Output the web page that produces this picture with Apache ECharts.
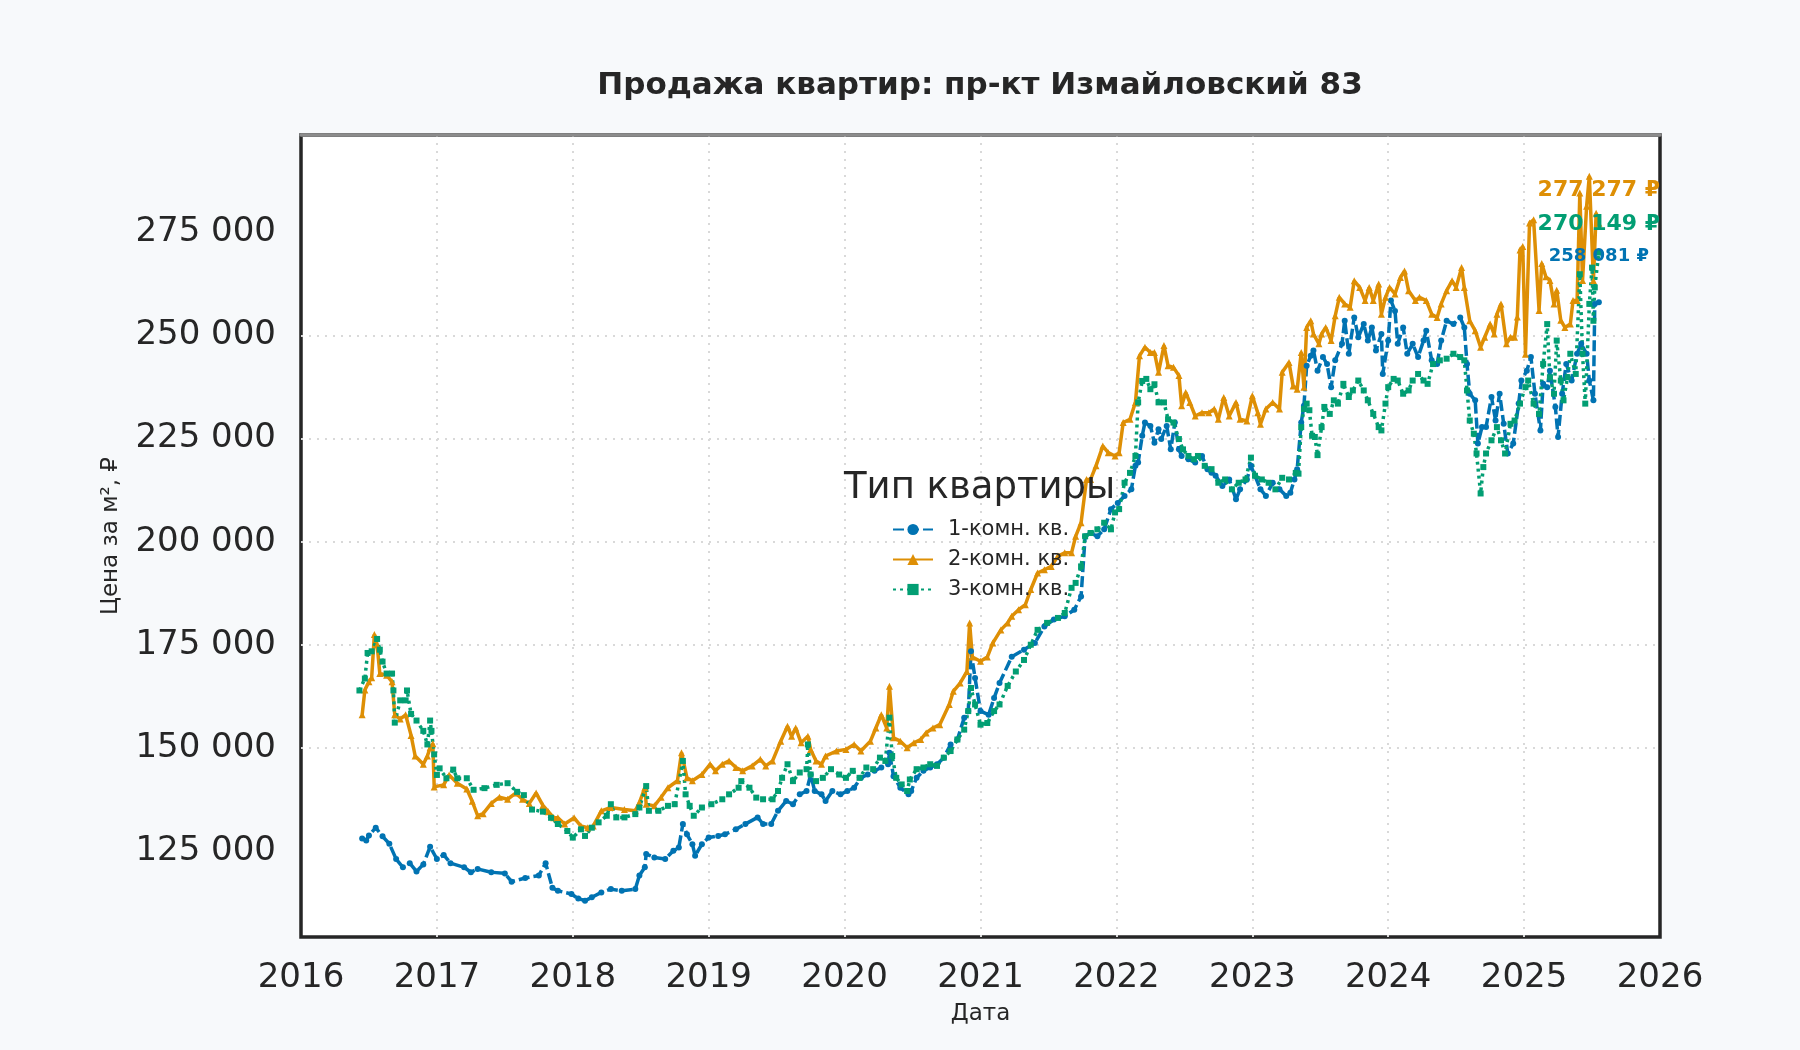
<!DOCTYPE html>
<html lang="ru">
<head>
    <meta charset="UTF-8">
    <title>Продажа квартир: пр-кт Измайловский 83</title>
    <script src="https://cdn.jsdelivr.net/npm/echarts@6/dist/echarts.min.js"></script>
    <style>
        html, body { margin: 0; padding: 0; background: #f7f9fb; }
        #chart { width: 1800px; height: 1050px; }
    </style>
</head>
<body>
<div id="chart"></div>
<script type="text/javascript">
    // годы (дробные) и цена за м2 в тыс. руб.
    var names = ['1-комн. кв.', '2-комн. кв.', '3-комн. кв.'];
    var colors = ['#0173b2', '#de8f05', '#029e73'];
    var yTicks = [125000, 150000, 175000, 200000, 225000, 250000, 275000];
    var xTicks = [2016, 2017, 2018, 2019, 2020, 2021, 2022, 2023, 2024, 2025, 2026];

    var t1 = [2016.45,2016.48,2016.50,2016.55,2016.60,2016.65,2016.70,2016.75,2016.80,2016.85,2016.90,2016.95,2017.00,2017.05,2017.10,2017.20,2017.25,2017.30,2017.40,2017.50,2017.55,2017.65,2017.75,2017.80,2017.85,2017.89,2017.99,2018.04,2018.09,2018.14,2018.21,2018.28,2018.36,2018.46,2018.49,2018.53,2018.54,2018.60,2018.68,2018.74,2018.78,2018.81,2018.84,2018.88,2018.90,2018.95,2019.00,2019.07,2019.12,2019.20,2019.27,2019.36,2019.40,2019.46,2019.51,2019.57,2019.62,2019.67,2019.72,2019.75,2019.78,2019.83,2019.86,2019.91,2019.97,2020.02,2020.07,2020.12,2020.17,2020.22,2020.27,2020.32,2020.33,2020.36,2020.41,2020.47,2020.49,2020.53,2020.58,2020.63,2020.68,2020.73,2020.78,2020.83,2020.88,2020.91,2020.93,2020.96,2021.00,2021.06,2021.10,2021.14,2021.23,2021.32,2021.40,2021.47,2021.54,2021.62,2021.69,2021.74,2021.77,2021.81,2021.86,2021.91,2021.96,2022.01,2022.06,2022.11,2022.14,2022.16,2022.19,2022.21,2022.25,2022.28,2022.31,2022.33,2022.37,2022.40,2022.43,2022.46,2022.48,2022.53,2022.58,2022.63,2022.67,2022.70,2022.73,2022.78,2022.83,2022.88,2022.91,2022.96,2022.99,2023.02,2023.06,2023.10,2023.15,2023.20,2023.25,2023.28,2023.31,2023.33,2023.36,2023.38,2023.40,2023.43,2023.45,2023.48,2023.52,2023.55,2023.58,2023.61,2023.66,2023.68,2023.71,2023.75,2023.78,2023.82,2023.85,2023.88,2023.91,2023.95,2023.96,2024.00,2024.02,2024.05,2024.07,2024.11,2024.14,2024.18,2024.22,2024.26,2024.28,2024.32,2024.36,2024.39,2024.43,2024.48,2024.53,2024.56,2024.58,2024.60,2024.64,2024.66,2024.69,2024.72,2024.76,2024.79,2024.82,2024.85,2024.88,2024.92,2024.96,2024.98,2025.02,2025.05,2025.08,2025.12,2025.14,2025.17,2025.19,2025.23,2025.25,2025.28,2025.31,2025.35,2025.39,2025.42,2025.46,2025.48,2025.51,2025.52,2025.55];
    var v1 = [128,127.5,128.7,130.6,128.5,126.7,123,121,122,120,121.7,126,123,124,122,121,119.8,120.6,119.8,119.5,117.5,118.4,119,122,116,115.3,114.5,113.4,112.9,113.7,114.9,115.7,115.3,115.7,119,121,124.2,123.4,123,125,125.8,131.5,129,126.6,123.8,126.6,128.2,128.6,129,130.2,131.5,133.1,131.5,131.5,134.7,137.1,136.3,138.7,139.5,143.5,139.5,138.7,137.1,139.5,138.7,139.5,140.3,142.7,143.5,144.4,145.2,146,148.8,143.1,140.3,138.7,139.5,142.7,144.4,145.2,146,147.6,150.8,152,157.3,158.9,173.4,166.9,158.9,158,162.1,165.7,172.1,173.8,175.4,179.4,181.1,181.9,183.5,186.7,201.3,202.1,201.3,203,207.9,209.4,211.1,212.7,218.4,219.2,225.7,228.9,228.1,224,227.3,224.9,228.1,222.4,228.9,222.4,220.8,220,219.2,220.8,217.6,216.7,216,213.5,215.1,210.3,212.7,215.1,218.4,216,212.7,211.1,214.3,212.7,211.1,211.9,215.1,217.6,228.9,233,242.7,245.1,246.4,241.5,244.8,243.1,237.5,244,248,253.6,245.6,254.4,249.6,252.8,248.8,252,246.4,250.4,240.7,248.8,258.5,256,248,252,245.6,248,244.8,248.8,251.2,244,243.1,248.8,253.6,252.8,254.4,252,243.1,235.9,234.3,223.8,227.8,227.8,235.1,229.4,235.9,228.6,221.4,223.8,233.5,239.1,241.5,244.8,235.9,227,238.3,237.5,241.5,232.7,225.4,235.9,243.1,239.1,245.6,248,245.6,239.1,234.3,257.7,258.081];

    var t2 = [2016.45,2016.47,2016.50,2016.52,2016.54,2016.56,2016.58,2016.63,2016.67,2016.69,2016.73,2016.77,2016.81,2016.84,2016.90,2016.93,2016.95,2016.97,2016.98,2017.05,2017.09,2017.15,2017.22,2017.26,2017.30,2017.34,2017.40,2017.46,2017.52,2017.58,2017.63,2017.68,2017.73,2017.78,2017.82,2017.86,2017.89,2017.94,2018.01,2018.06,2018.11,2018.15,2018.21,2018.28,2018.38,2018.46,2018.49,2018.53,2018.54,2018.60,2018.65,2018.70,2018.77,2018.80,2018.84,2018.88,2018.95,2019.01,2019.05,2019.10,2019.15,2019.20,2019.25,2019.32,2019.38,2019.42,2019.47,2019.53,2019.58,2019.61,2019.64,2019.68,2019.73,2019.75,2019.79,2019.83,2019.86,2019.94,2020.01,2020.07,2020.12,2020.19,2020.23,2020.27,2020.31,2020.33,2020.36,2020.41,2020.46,2020.51,2020.56,2020.60,2020.65,2020.70,2020.77,2020.80,2020.85,2020.90,2020.92,2020.94,2021.00,2021.05,2021.09,2021.15,2021.20,2021.23,2021.28,2021.33,2021.37,2021.42,2021.47,2021.52,2021.57,2021.62,2021.67,2021.70,2021.74,2021.78,2021.81,2021.85,2021.90,2021.94,2021.99,2022.02,2022.05,2022.10,2022.14,2022.17,2022.21,2022.25,2022.28,2022.31,2022.35,2022.38,2022.42,2022.46,2022.48,2022.51,2022.54,2022.58,2022.63,2022.68,2022.72,2022.75,2022.79,2022.83,2022.88,2022.91,2022.96,2023.00,2023.04,2023.06,2023.10,2023.15,2023.20,2023.22,2023.27,2023.30,2023.33,2023.36,2023.38,2023.40,2023.43,2023.45,2023.49,2023.51,2023.54,2023.58,2023.61,2023.64,2023.68,2023.72,2023.75,2023.79,2023.83,2023.86,2023.89,2023.93,2023.95,2023.98,2024.01,2024.05,2024.09,2024.12,2024.15,2024.20,2024.23,2024.28,2024.32,2024.36,2024.39,2024.43,2024.47,2024.50,2024.54,2024.56,2024.60,2024.64,2024.68,2024.71,2024.75,2024.78,2024.80,2024.83,2024.87,2024.90,2024.93,2024.95,2024.97,2024.99,2025.01,2025.04,2025.07,2025.11,2025.13,2025.16,2025.19,2025.22,2025.24,2025.27,2025.30,2025.34,2025.36,2025.39,2025.41,2025.43,2025.46,2025.48,2025.51,2025.53,2025.55];
    var v2 = [158,164,166,167,177.5,175,168,167.6,166,158,157,158,153,148,146,148,150,151,140.5,141,143.4,141.4,140,137,133.5,134,136.5,138,137.5,139,137.5,136.5,139,136,134.5,133,133,131.5,133,131,130.6,131,134.7,135.5,135,134.7,136.7,140.3,136.3,135.9,138,140.3,142,148.8,142.7,142,143.5,146,144.4,146,146.8,145.2,144.4,145.6,147.2,145.6,146.8,151.6,155.2,152.8,154.8,151.2,152.8,149.6,146.8,146,148,149.2,149.6,150.8,149.2,151.6,154.8,158,154.8,164.9,152.4,151.6,150,151.2,152,153.6,154.8,155.6,160.5,163.7,165.7,168.5,180.3,172,171,172,175.4,178.6,180.3,181.9,183.5,184.7,188.4,192.4,193.2,194,196.5,197.3,197.3,201.3,204.6,215.1,215.1,218.4,223.2,221.6,220.8,221.6,228.9,229.7,233.8,245.1,247.2,245.9,245.9,241.1,247.6,242.7,242.3,240.3,233,236.2,233.8,230.5,231.3,231.3,232.2,229.7,235,230.5,233.8,229.7,229.3,235.4,231.3,228.5,232.2,233.8,232.2,241.1,243.5,237.8,237,245.9,237.5,252,253.6,250.4,248,250.4,252,248.8,254.8,259.3,257.7,256.9,263.3,261.7,258.5,261.7,258.5,262.5,255.2,259.3,261.7,260.1,264.1,265.7,260.9,258.5,259.3,258.5,255.2,254.4,257.7,260.9,263.3,261.7,266.5,261.7,253.6,251.2,247.2,249.6,252.8,250.4,255.2,257.7,248,249.6,249.6,254.5,270.8,271.6,245.5,277.3,278.1,256.1,267.5,264.3,263.4,257.7,261,253.7,252,252.8,258.5,258.5,284.6,263.4,281.4,288.7,263.4,279.7,277.277];

    var t3 = [2016.43,2016.47,2016.49,2016.52,2016.56,2016.58,2016.60,2016.63,2016.67,2016.68,2016.69,2016.73,2016.77,2016.78,2016.81,2016.85,2016.90,2016.93,2016.95,2016.96,2016.98,2017.00,2017.02,2017.07,2017.12,2017.15,2017.22,2017.27,2017.35,2017.44,2017.52,2017.59,2017.64,2017.70,2017.78,2017.84,2017.89,2017.96,2018.00,2018.06,2018.09,2018.14,2018.19,2018.25,2018.28,2018.32,2018.38,2018.46,2018.49,2018.54,2018.56,2018.63,2018.70,2018.75,2018.81,2018.83,2018.86,2018.89,2018.95,2019.02,2019.10,2019.15,2019.22,2019.24,2019.30,2019.35,2019.40,2019.47,2019.51,2019.54,2019.58,2019.62,2019.67,2019.72,2019.73,2019.75,2019.79,2019.84,2019.90,2019.96,2020.01,2020.06,2020.11,2020.16,2020.21,2020.26,2020.30,2020.33,2020.35,2020.38,2020.42,2020.46,2020.48,2020.53,2020.58,2020.63,2020.68,2020.73,2020.78,2020.83,2020.88,2020.91,2020.93,2020.96,2021.00,2021.05,2021.10,2021.14,2021.20,2021.26,2021.32,2021.37,2021.42,2021.49,2021.57,2021.62,2021.67,2021.70,2021.74,2021.77,2021.81,2021.86,2021.91,2021.96,2021.99,2022.02,2022.06,2022.10,2022.14,2022.16,2022.19,2022.22,2022.25,2022.28,2022.31,2022.35,2022.38,2022.42,2022.46,2022.49,2022.53,2022.57,2022.60,2022.65,2022.70,2022.75,2022.80,2022.85,2022.90,2022.95,2022.99,2023.02,2023.07,2023.12,2023.17,2023.22,2023.27,2023.32,2023.34,2023.36,2023.38,2023.40,2023.42,2023.44,2023.46,2023.48,2023.51,2023.53,2023.57,2023.60,2023.63,2023.67,2023.71,2023.74,2023.78,2023.82,2023.85,2023.89,2023.93,2023.95,2023.98,2024.00,2024.04,2024.07,2024.11,2024.15,2024.18,2024.22,2024.26,2024.29,2024.33,2024.38,2024.43,2024.48,2024.53,2024.56,2024.58,2024.60,2024.63,2024.65,2024.68,2024.70,2024.72,2024.76,2024.80,2024.83,2024.86,2024.90,2024.93,2024.97,2025.01,2025.03,2025.07,2025.11,2025.14,2025.17,2025.19,2025.22,2025.24,2025.27,2025.29,2025.32,2025.34,2025.38,2025.41,2025.43,2025.45,2025.48,2025.50,2025.51,2025.52,2025.55];
    var v3 = [163.9,166.8,173,173.4,176.4,173.8,170.9,168,168,163.9,156.1,161.5,161.5,163.9,158.2,156.6,154.1,150.8,156.6,154.1,148.4,143.4,145,142.6,144.7,142.6,142.6,139.8,140.2,141,141.4,139.3,138.5,135,134.5,133,131.5,129.8,128.2,130.2,128.6,130.6,131.9,133.5,136.3,133.1,133.1,133.9,135.5,140.7,134.7,134.7,135.9,136.3,146.8,138.7,135.9,133.5,135.5,136.3,137.5,138.7,140.3,141.9,140.3,137.9,137.5,137.5,139.5,142.7,146,141.9,144,144.8,150.8,143.5,141.9,142.7,144.8,143.5,142.7,144.4,142.7,145.2,144.8,147.6,146.8,157.3,148,142.7,141.1,139.5,142.3,144.8,145.2,146,145.6,147.6,149.2,152,154.4,158.9,164.5,160.5,155.6,156,158.9,160.5,165,168.5,171.3,175,178.6,180.3,181.5,182.7,188.8,190,194,201.3,202.1,203,204.6,203,207.1,207.9,214.3,216.7,220.8,233.8,239,239.5,237,238.2,233.8,233.8,229.7,228.9,224.9,222.4,220.8,220,220.8,218.4,217.6,214.3,215.1,212.7,214.3,215.1,220.4,216,215.1,214.3,212.7,215.5,215.1,216.7,216.5,227.8,232.2,233.5,231.9,225.7,225.4,221,227.8,232.7,231,234.3,233.5,238.3,235.1,236.7,239.1,236.7,234.3,231,227.8,227,233.5,237.5,239.5,239.1,235.9,236.7,239.1,240.7,239.1,238.3,243.1,244,244.4,245.6,244.8,244,236.7,229.4,226.2,221.4,211.7,218.1,221.4,224.6,227.8,224.6,221.4,228.6,229.4,233.5,237.5,239.1,233.5,231,243.1,252.8,239.9,235.9,248.8,239.1,234.3,239.9,245.6,240.7,264.9,245.6,233.5,257.7,266.5,253.6,261.7,270.149];

    var times = [t1, t2, t3];
    var values = [v1, v2, v3];
    var lastOffsets = [-46, -33, -28];
    var lastFont = [18, 22, 22];
    var symbols = ['circle', 'triangle', 'rect'];
    var symbolSizes = [6, 7, 6];
    var lineTypes = [[11, 4], 'solid', [3, 4]];

    var font = 'DejaVu Sans';
    var ink = '#262626';
    var gridLine = { color: '#d9d9d9', width: 2, type: [2, 6] };

    function rub(v) {
        return String(Math.round(v)).replace(/\B(?=(\d{3})+(?!\d))/g, ' ');
    }

    var series = names.map(function (name, i) {
        var pts = times[i].map(function (t, k) {
            return [t, Math.round(values[i][k] * 1000)];
        });
        var last = pts[pts.length - 1];
        return {
            name: name,
            type: 'line',
            data: pts,
            symbol: symbols[i],
            symbolSize: symbolSizes[i],
            showSymbol: true,
            color: colors[i],
            lineStyle: { width: 3.5, type: lineTypes[i], color: colors[i] },
            itemStyle: { color: colors[i] },
            emphasis: { disabled: true },
            markPoint: {
                symbol: 'circle',
                symbolSize: 1,
                itemStyle: { color: 'rgba(0,0,0,0)' },
                data: [{ coord: last, value: last[1] }],
                label: {
                    show: true,
                    position: 'inside',
                    offset: [0, lastOffsets[i]],
                    formatter: function (p) { return rub(p.value) + ' ₽'; },
                    color: colors[i],
                    fontFamily: font,
                    fontWeight: 'bold',
                    fontSize: lastFont[i]
                }
            }
        };
    });

    var chart = echarts.init(document.getElementById('chart'));
    chart.setOption({
        animation: false,
        backgroundColor: '#f7f9fb',
        textStyle: { fontFamily: font },
        graphic: [
            {
                type: 'text', x: 980, y: 86,
                style: {
                    text: 'Продажа квартир: пр-кт Измайловский 83',
                    font: 'bold 31px "DejaVu Sans"', fill: ink,
                    textAlign: 'center', textVerticalAlign: 'middle'
                }
            },
            {
                type: 'text', x: 844, y: 488, z: 100,
                style: {
                    text: 'Тип квартиры',
                    font: '37px "DejaVu Sans"', fill: ink,
                    textAlign: 'left', textVerticalAlign: 'middle'
                }
            }
        ],
        legend: {
            data: names,
            orient: 'vertical',
            left: 892,
            top: 519,
            padding: 0,
            itemWidth: 40,
            itemHeight: 14,
            itemGap: 9,
            textStyle: { fontSize: 21, color: ink, fontFamily: font, padding: [0, 0, 0, 10] }
        },
        grid: {
            left: 301, right: 140, top: 135, bottom: 113,
            show: true, backgroundColor: '#ffffff',
            borderColor: ink, borderWidth: 3.5
        },
        xAxis: [
            {
                type: 'value', min: 2016, max: 2026, interval: 1,
                name: 'Дата', nameLocation: 'middle', nameGap: 66,
                nameTextStyle: { fontSize: 23, color: ink },
                axisLine: { show: false },
                axisTick: { show: false },
                axisLabel: {
                    fontSize: 34, color: ink, margin: 24,
                    formatter: function (v) { return String(v); }
                },
                splitLine: { show: true, showMinLine: false, showMaxLine: false, lineStyle: gridLine }
            },
            {
                type: 'value', min: 2016, max: 2026, position: 'top',
                axisLine: { show: true, lineStyle: { color: '#8c8c8c', width: 3.5 } },
                axisTick: { show: false }, axisLabel: { show: false }, splitLine: { show: false }
            }
        ],
        yAxis: {
            type: 'value', min: 104080, max: 298680,
            name: 'Цена за м², ₽', nameLocation: 'middle', nameGap: 178,
            nameTextStyle: { fontSize: 23, color: ink },
            axisLine: { show: false },
            axisTick: { show: false, customValues: yTicks },
            axisLabel: {
                fontSize: 34, color: ink, margin: 25, customValues: yTicks,
                formatter: function (v) { return rub(v); }
            },
            splitLine: { show: true, showMinLine: false, showMaxLine: false, lineStyle: gridLine }
        },
        series: series
    });
</script>
</body>
</html>
